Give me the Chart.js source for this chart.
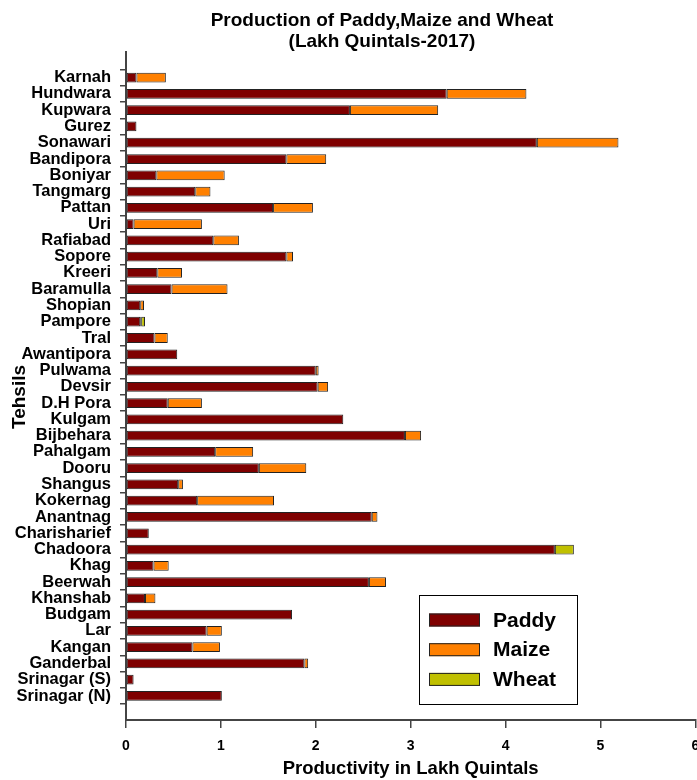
<!DOCTYPE html>
<html>
<head>
<meta charset="utf-8">
<script src="https://cdn.jsdelivr.net/npm/chart.js@4"></script>
<style>
  html, body { margin: 0; padding: 0; background: #fff; }
</style>
</head>
<body>
<canvas id="prodChart" width="697" height="780"></canvas>
<script>
let tehsils = ['Karnah', 'Hundwara', 'Kupwara', 'Gurez', 'Sonawari', 'Bandipora', 'Boniyar', 'Tangmarg',
  'Pattan', 'Uri', 'Rafiabad', 'Sopore', 'Kreeri', 'Baramulla', 'Shopian', 'Pampore', 'Tral',
  'Awantipora', 'Pulwama', 'Devsir', 'D.H Pora', 'Kulgam', 'Bijbehara', 'Pahalgam', 'Dooru',
  'Shangus', 'Kokernag', 'Anantnag', 'Charisharief', 'Chadoora', 'Khag', 'Beerwah', 'Khanshab',
  'Budgam', 'Lar', 'Kangan', 'Ganderbal', 'Srinagar (S)', 'Srinagar (N)'];

let paddy = [0.11, 3.38, 2.36, 0.11, 4.33, 1.69, 0.32, 0.73, 1.55, 0.08, 0.92, 1.69, 0.33, 0.48,
  0.15, 0.15, 0.30, 0.54, 2.00, 2.02, 0.44, 2.29, 2.94, 0.94, 1.40, 0.55, 0.75, 2.59, 0.24,
  4.52, 0.29, 2.56, 0.20, 1.75, 0.85, 0.70, 1.88, 0.08, 1.01];

let maize = [0.31, 0.84, 0.93, 0, 0.86, 0.42, 0.72, 0.16, 0.42, 0.72, 0.27, 0.07, 0.26, 0.59,
  0.04, 0.01, 0.14, 0, 0.03, 0.11, 0.36, 0, 0.17, 0.40, 0.50, 0.05, 0.81, 0.06, 0,
  0, 0.16, 0.18, 0.11, 0, 0.16, 0.29, 0.04, 0, 0];

let wheat = [0, 0, 0, 0, 0, 0, 0, 0, 0, 0, 0, 0, 0, 0,
  0, 0.04, 0, 0, 0, 0, 0, 0, 0, 0, 0, 0, 0, 0, 0,
  0.20, 0, 0, 0, 0, 0, 0, 0, 0, 0];

let crops = ['Paddy', 'Maize', 'Wheat'];
let cropColors = ['#7F0000', '#FF8000', '#C0C000'];
let titleLines = ['Production of Paddy,Maize and Wheat', '(Lakh Quintals-2017)'];
let yTitle = 'Tehsils';

let fontFamily = '"Liberation Sans", Arial, sans-serif';
Chart.defaults.font.family = fontFamily;
Chart.defaults.color = '#000';

// titles drawn by hand so they can sit off-centre like the original
let handTitles = {
  id: 'handTitles',
  afterDraw(chart, args, opts) {
    let c = chart.ctx;
    c.save();
    c.font = 'bold 19px ' + fontFamily;
    c.fillStyle = '#000';
    c.textAlign = 'center';
    c.textBaseline = 'alphabetic';
    opts.lines.forEach(function (line, i) {
      c.fillText(line, opts.x, opts.y + i * opts.gap);
    });
    // rotated y axis title
    c.translate(opts.sideX, opts.sideY);
    c.rotate(-Math.PI / 2);
    c.textBaseline = 'middle';
    c.fillText(opts.side, 0, 0);
    c.restore();
  }
};

// legend box inside the plot, bottom right
let boxLegend = {
  id: 'boxLegend',
  afterDatasetsDraw(chart, args, opts) {
    let c = chart.ctx;
    let area = chart.chartArea;
    let left = area.left + opts.left;
    let top = area.bottom - opts.bottom - opts.height;
    c.save();
    c.fillStyle = '#fff';
    c.fillRect(left, top, opts.width, opts.height);
    c.strokeStyle = '#000';
    c.lineWidth = 1;
    c.strokeRect(left + 0.5, top + 0.5, opts.width, opts.height);
    c.font = 'bold 21px ' + fontFamily;
    c.textAlign = 'left';
    c.textBaseline = 'middle';
    chart.data.datasets.forEach(function (ds, i) {
      let cy = top + opts.firstRow + i * opts.rowGap;
      c.fillStyle = ds.backgroundColor;
      c.fillRect(left + 10, cy - 6.5, 51, 13);
      c.strokeStyle = '#222';
      c.strokeRect(left + 10.5, cy - 6, 50, 12);
      c.fillStyle = '#000';
      c.fillText(ds.label, left + 74, cy + 1);
    });
    c.restore();
  }
};

let series = [paddy, maize, wheat];

let ctx = document.getElementById('prodChart').getContext('2d');

let prodChart = new Chart(ctx, {
  type: 'bar',
  data: {
    datasets: series.map(function (vals, k) {
      return {
        label: crops[k],
        data: vals.map(function (v, i) { return { x: v, y: i }; }),
        backgroundColor: cropColors[k]
      };
    })
  },
  options: {
    indexAxis: 'y',
    responsive: false,
    animation: false,
    layout: { padding: { top: 52, right: 1.7, left: 0, bottom: 0 } },
    datasets: {
      bar: {
        barPercentage: 0.6,
        categoryPercentage: 1,
        borderWidth: 1,
        borderColor: '#222',
        borderSkipped: false
      }
    },
    plugins: {
      legend: { display: false },
      tooltip: { enabled: false },
      handTitles: { lines: titleLines, x: 382, y: 26, gap: 21, side: yTitle, sideX: 20, sideY: 397 },
      boxLegend: { left: 293, bottom: 16, width: 158, height: 109, firstRow: 25, rowGap: 29.7 }
    },
    scales: {
      x: {
        type: 'linear',
        stacked: true,
        min: 0,
        max: 6,
        ticks: {
          stepSize: 1,
          color: '#000',
          padding: 10,
          font: { size: 14, weight: 'bold' }
        },
        grid: { drawOnChartArea: false, tickLength: 8, color: '#444', lineWidth: 1.5 },
        border: { color: '#444', width: 2 },
        title: {
          display: true,
          text: 'Productivity in Lakh Quintals',
          color: '#000',
          font: { size: 18.5, weight: 'bold', lineHeight: 1.2 },
          padding: { top: 0, bottom: 0 }
        },
        afterFit: function (s) {
          s.paddingRight = 0;
          s.height = 60;
        }
      },
      y: {
        type: 'linear',
        reverse: true,
        stacked: true,
        min: -1.05,
        max: 38.95,
        afterBuildTicks: function (s) {
          s.ticks = tehsils.map(function (t, i) { return { value: i }; });
        },
        ticks: {
          autoSkip: false,
          color: '#000',
          padding: 9,
          font: { size: 16.5, weight: 'bold', lineHeight: 1 },
          callback: function (v) { return tehsils[v]; }
        },
        grid: { drawOnChartArea: false, tickLength: 6, color: '#444', lineWidth: 1.5 },
        border: { color: '#444', width: 2 },
        afterFit: function (s) {
          s.width = 126;
        }
      }
    }
  },
  plugins: [handTitles, boxLegend]
});
</script>
</body>
</html>
